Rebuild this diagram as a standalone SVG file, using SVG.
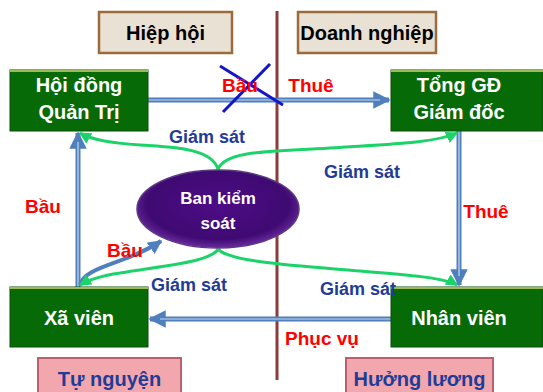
<svg xmlns="http://www.w3.org/2000/svg" width="543" height="392" viewBox="0 0 543 392">
<defs>
<style>
.hdr{fill:#E9E1D3;stroke:#9C6B3C;stroke-width:2.5}
.pink{fill:#F2A7AE;stroke:#B8606C;stroke-width:2}
.node{fill:#066A06;stroke:#0A4F0A;stroke-width:1}
.ntop{stroke:#9BBB59;stroke-width:2}
.t{font-family:"Liberation Sans",Arial,sans-serif;font-weight:bold;text-anchor:middle}
.wt{fill:#FFFFFF;font-size:20px}
.bk{fill:#000000;font-size:20px}
.bl{fill:#1F3C96;font-size:18px}
.rd{fill:#FF0000;font-size:19px}
.blue{fill:none;stroke:#4F7FBD;stroke-width:5}
.inner{fill:none;stroke:#C9D8EE;stroke-width:1.2}
.grn{fill:none;stroke:#1CD36A;stroke-width:3}
</style>
<marker id="ab" viewBox="0 0 10 10" refX="9" refY="5" markerWidth="3.5" markerHeight="3.5" orient="auto" markerUnits="strokeWidth"><path d="M0,0 L10,5 L0,10 z" fill="#4F7FBD"/></marker>
<marker id="ag" viewBox="0 0 10 10" refX="9" refY="5" markerWidth="4" markerHeight="4" orient="auto" markerUnits="strokeWidth"><path d="M0,0 L10,5 L0,10 z" fill="#1CD36A"/></marker>
<radialGradient id="ell" cx="50%" cy="45%" r="55%"><stop offset="0" stop-color="#4E0C86"/><stop offset="0.8" stop-color="#3F0A72"/><stop offset="1" stop-color="#6A2A9E"/></radialGradient>
</defs>

<line x1="277" y1="11" x2="277" y2="380" stroke="#8E3B3B" stroke-width="3"/>

<g id="hdr-hiephoi"><rect class="hdr" x="99" y="12" width="133" height="41"/><text class="t bk" x="165.5" y="40">Hiệp hội</text></g>
<g id="hdr-doanhnghiep"><rect class="hdr" x="298" y="12" width="138" height="41"/><text class="t bk" x="367" y="40">Doanh nghiệp</text></g>

<g id="connectors">
<path class="blue" d="M148,100 L389,100" marker-end="url(#ab)"/>
<path class="inner" d="M148,100 L380,100"/>
<path class="blue" d="M459,131 L459,285" marker-end="url(#ab)"/>
<path class="inner" d="M459,131 L459,276"/>
<path class="blue" d="M391,319 L150,319" marker-end="url(#ab)"/>
<path class="inner" d="M391,319 L160,319"/>
<path class="blue" d="M78,287 L78,133" marker-end="url(#ab)"/>
<path class="inner" d="M78,287 L78,142"/>
<path fill="none" stroke="#4F7FBD" stroke-width="4" d="M80,285 C84,266 128,264 161,241" marker-end="url(#ab)"/>
<path class="grn" d="M218,169 C212,150 180,147 140,145 C110,143 92,140 80,133" marker-end="url(#ag)"/>
<path class="grn" d="M218,169 C226,150 270,152 330,148 C390,144 435,143 457,133" marker-end="url(#ag)"/>
<path class="grn" d="M218,249 C212,262 160,266 120,273 C100,276 88,280 80,285" marker-end="url(#ag)"/>
<path class="grn" d="M218,249 C228,262 300,266 360,271 C410,275 445,278 457,285" marker-end="url(#ag)"/>
<line x1="220" y1="66" x2="283" y2="105" stroke="#1414C8" stroke-width="3"/>
<line x1="270" y1="64" x2="223" y2="112" stroke="#1414C8" stroke-width="3"/>
</g>

<g id="n-hoidong"><rect class="node" x="10" y="70" width="138" height="61"/><line class="ntop" x1="10" y1="71" x2="148" y2="71"/><text class="t wt" x="79" y="92">Hội đồng</text><text class="t wt" x="79" y="119">Quản Trị</text></g>
<g id="n-tonggd"><rect class="node" x="391" y="70" width="152" height="61"/><line class="ntop" x1="391" y1="71" x2="543" y2="71"/><text class="t wt" x="459" y="92">Tổng GĐ</text><text class="t wt" x="459" y="119">Giám đốc</text></g>
<g id="n-xavien"><rect class="node" x="10" y="287" width="138" height="60"/><line class="ntop" x1="10" y1="288" x2="148" y2="288"/><text class="t wt" x="79" y="325">Xã viên</text></g>
<g id="n-nhanvien"><rect class="node" x="391" y="287" width="152" height="60"/><line class="ntop" x1="391" y1="288" x2="543" y2="288"/><text class="t wt" x="459" y="325">Nhân viên</text></g>
<g id="n-bks"><ellipse cx="218" cy="209" rx="81" ry="39" fill="url(#ell)" stroke="#5A3A80" stroke-width="1.5"/><text class="t" fill="#FFFFFF" font-size="17" x="218" y="204">Ban kiểm</text><text class="t" fill="#FFFFFF" font-size="17" x="218" y="229">soát</text></g>
<g id="n-tunguyen"><rect class="pink" x="38" y="358" width="143" height="40"/><text class="t" fill="#1F3C96" font-size="20" x="109.5" y="386">Tự nguyện</text></g>
<g id="n-huongluong"><rect class="pink" x="346" y="358" width="147" height="40"/><text class="t" fill="#1F3C96" font-size="20" x="419.5" y="386">Hưởng lương</text></g>

<g id="labels">
<text class="t rd" x="240" y="92">Bầu</text>
<text class="t rd" x="311" y="92">Thuê</text>
<text class="t rd" x="486" y="218">Thuê</text>
<text class="t rd" x="43" y="213">Bầu</text>
<text class="t rd" x="125" y="257">Bầu</text>
<text class="t rd" x="322" y="345">Phục vụ</text>
<text class="t bl" x="207" y="143">Giám sát</text>
<text class="t bl" x="362" y="178">Giám sát</text>
<text class="t bl" x="189" y="291">Giám sát</text>
<text class="t bl" x="358" y="295">Giám sát</text>
</g>
</svg>
